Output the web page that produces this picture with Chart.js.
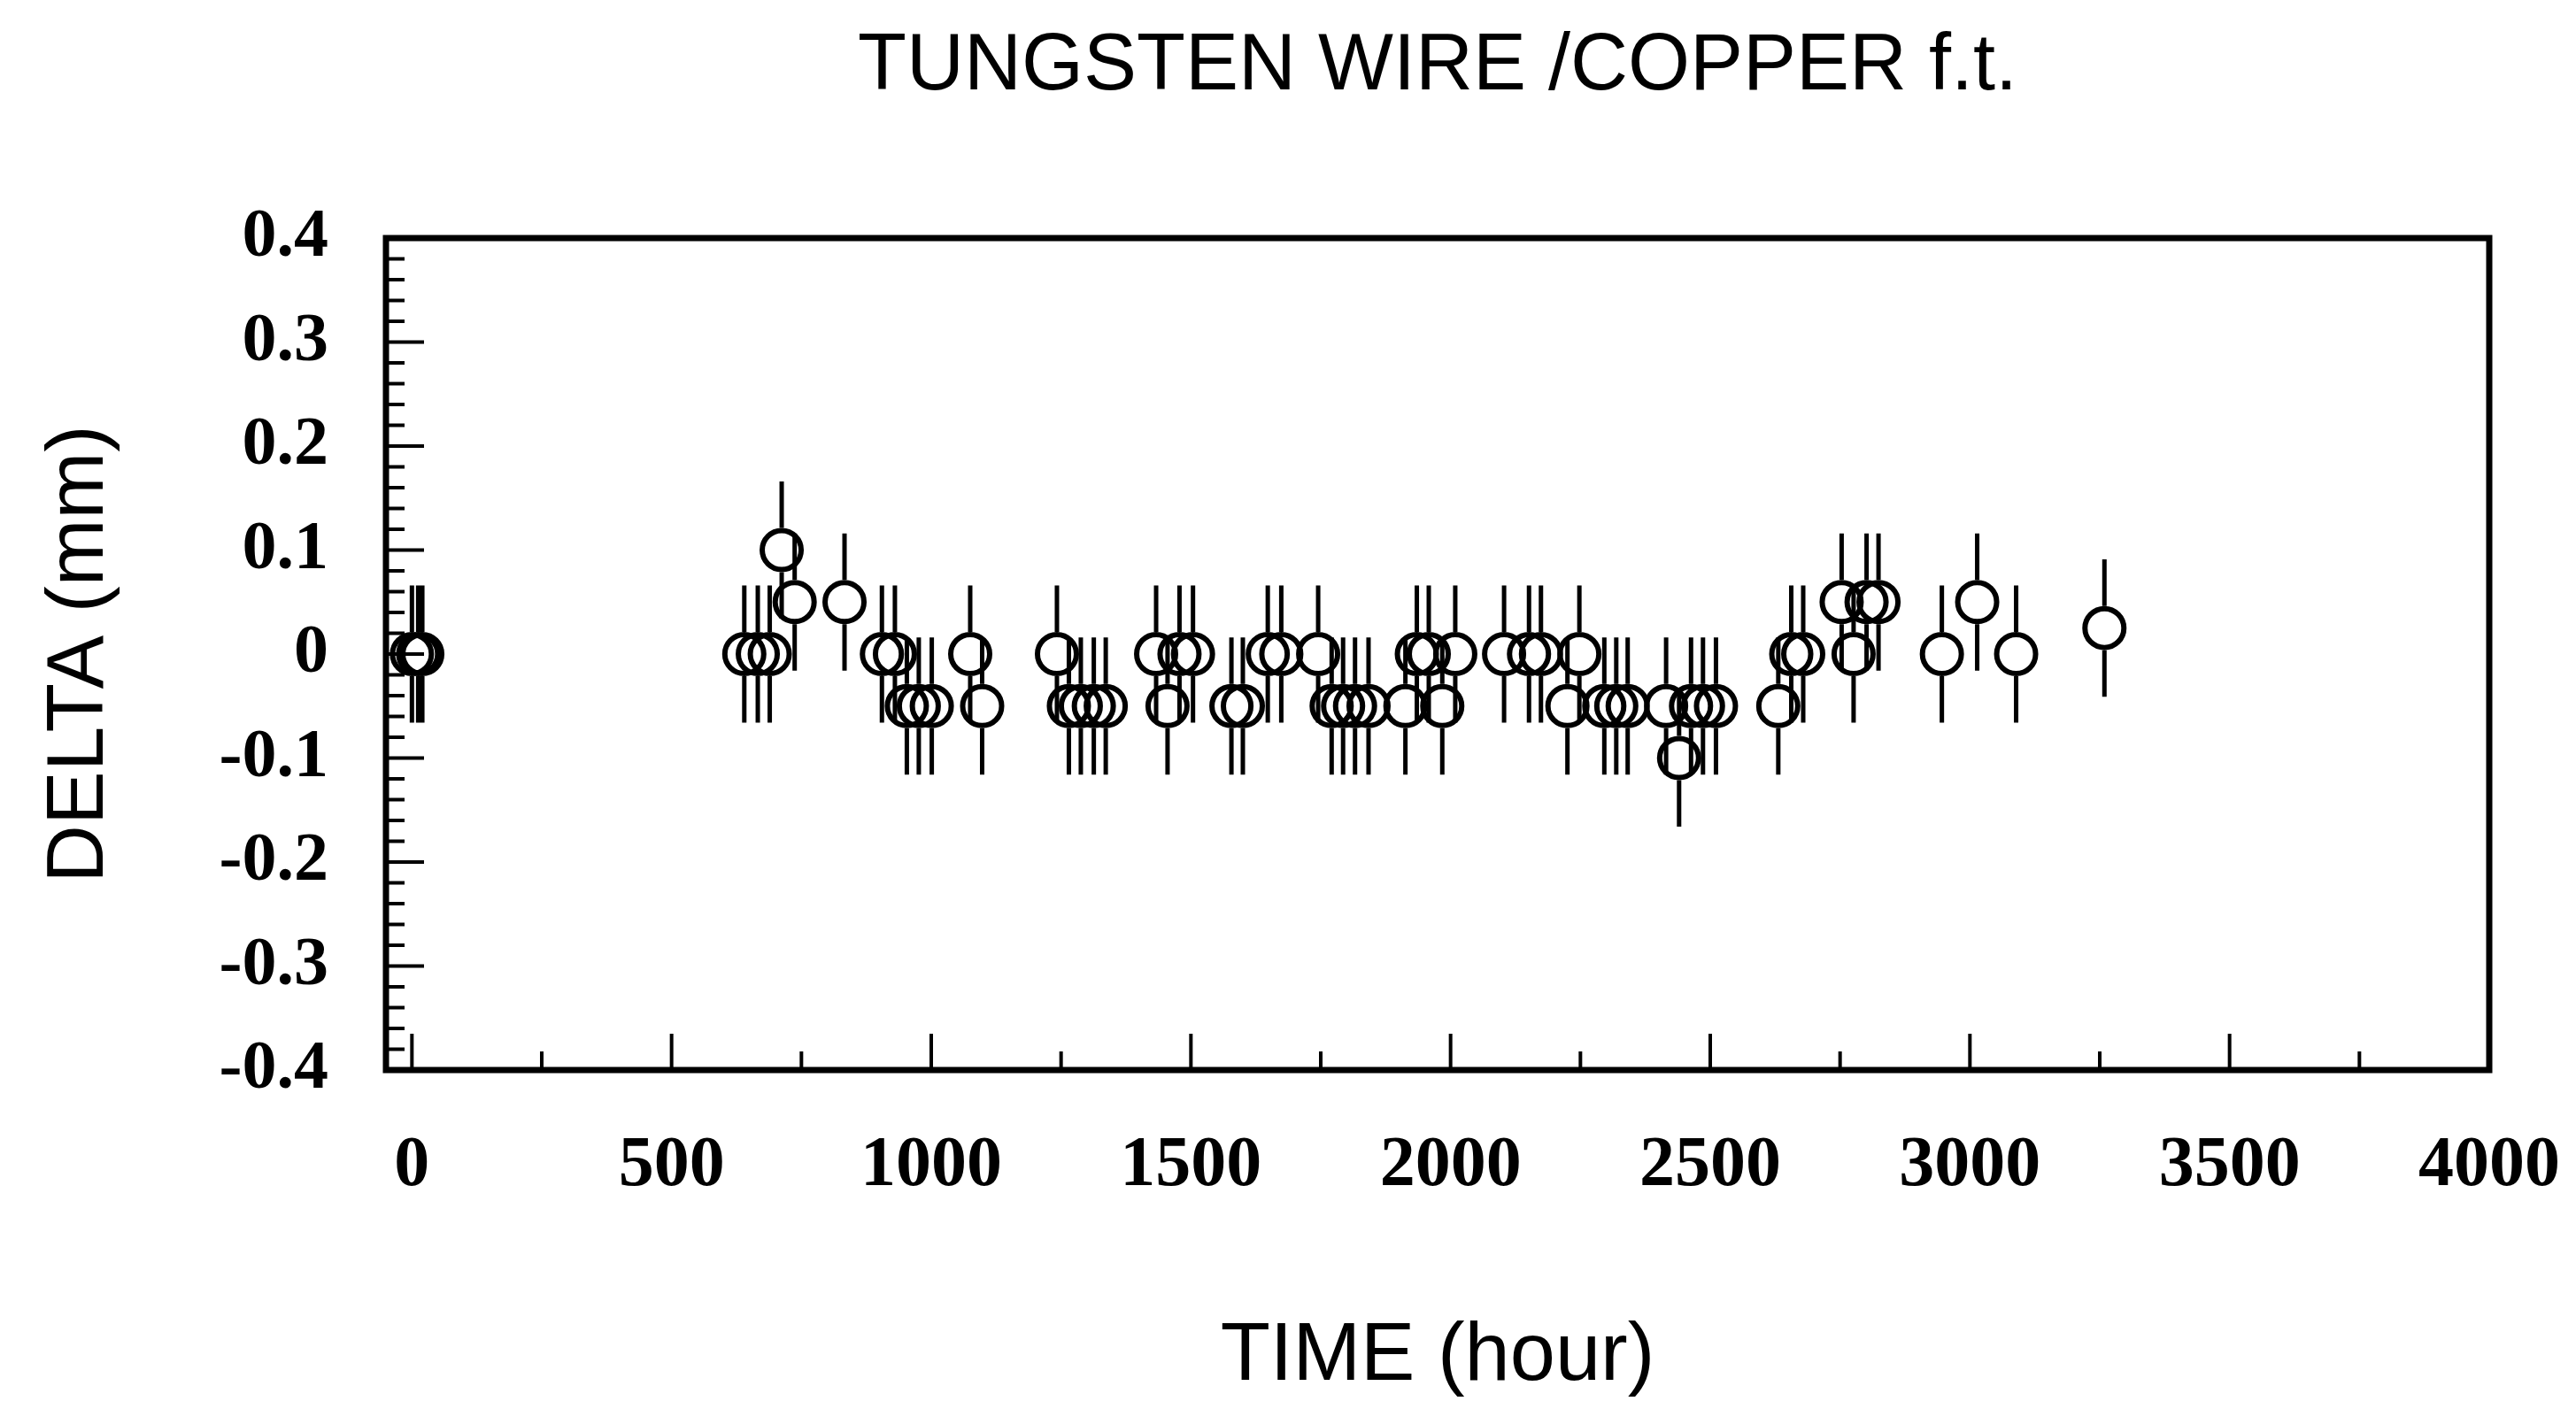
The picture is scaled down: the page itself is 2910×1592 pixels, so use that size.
<!DOCTYPE html>
<html lang="en">
<head>
<meta charset="UTF-8">
<title>TUNGSTEN WIRE /COPPER f.t.</title>
<script src="https://cdn.jsdelivr.net/npm/chart.js"></script>
<style>
    html, body { margin: 0; padding: 0; background: #ffffff; }
    #myChart { display: block; }
</style>
</head>
<body>
<canvas id="myChart" width="2910" height="1592"></canvas>

<script>
    // values (time in hours, delta in mm)
    var hours = [0, 12, 20, 640, 666, 689, 712, 737, 833, 905, 930, 953, 976, 1001, 1075, 1098,
        1242, 1265, 1288, 1313, 1336, 1433, 1455, 1478, 1504, 1578, 1600, 1648, 1674, 1745,
        1771, 1793, 1816, 1842, 1913, 1935, 1958, 1984, 2009, 2103, 2151, 2174, 2225, 2248,
        2296, 2319, 2341, 2415, 2440, 2463, 2486, 2511, 2631, 2656, 2679, 2753, 2776, 2801,
        2824, 2946, 3014, 3089, 3259];
    var delta = [0, 0, 0, 0, 0, 0, 0.1, 0.05, 0.05, 0, 0, -0.05, -0.05, -0.05, 0, -0.05,
        0, -0.05, -0.05, -0.05, -0.05, 0, -0.05, 0, 0, -0.05, -0.05, 0, 0, 0,
        -0.05, -0.05, -0.05, -0.05, -0.05, 0, 0, -0.05, 0, 0, 0, 0, -0.05, 0,
        -0.05, -0.05, -0.05, -0.05, -0.1, -0.05, -0.05, -0.05, -0.05, 0, 0, 0.05, 0, 0.05,
        0.05, 0, 0.05, 0, 0.025];
    var errDelta = 0.066; // same error bar for every point

    var xLabels = [0, 500, 1000, 1500, 2000, 2500, 3000, 3500, 4000];
    var yLabels = [0.4, 0.3, 0.2, 0.1, 0, -0.1, -0.2, -0.3, -0.4];

    var serif = "'Liberation Serif', 'Times New Roman', serif";
    var sans = "'Liberation Sans', Arial, sans-serif";

    function findLabel(list, v) {
        for (var i = 0; i < list.length; i++) {
            if (Math.abs(list[i] - v) < 1e-6) return String(list[i]);
        }
        return '';
    }

    var points = [];
    for (var i = 0; i < hours.length; i++) {
        points.push({ x: hours[i], y: delta[i] });
    }

    var radius = 22;
    var border = 6;

    // vertical error bars, stopped at the edge of each open circle
    var errorBars = {
        id: 'errorBars',
        afterDatasetsDraw: function (chart) {
            var ctx = chart.ctx;
            var ys = chart.scales.y;
            var meta = chart.getDatasetMeta(0);
            var gap = radius + border / 2;
            ctx.save();
            ctx.strokeStyle = '#000';
            ctx.lineWidth = 5;
            ctx.beginPath();
            meta.data.forEach(function (pt, i) {
                var top = ys.getPixelForValue(delta[i] + errDelta);
                var bot = ys.getPixelForValue(delta[i] - errDelta);
                ctx.moveTo(pt.x, top);
                ctx.lineTo(pt.x, pt.y - gap);
                ctx.moveTo(pt.x, pt.y + gap);
                ctx.lineTo(pt.x, bot);
            });
            ctx.stroke();
            ctx.restore();
        }
    };

    // box around the plot with inward ticks
    var frame = {
        id: 'frame',
        afterDraw: function (chart) {
            var ctx = chart.ctx;
            var a = chart.chartArea;
            var xs = chart.scales.x;
            var ys = chart.scales.y;
            ctx.save();
            ctx.strokeStyle = '#000';
            ctx.lineWidth = 4;
            ctx.beginPath();
            xs.ticks.forEach(function (t) {
                var len = findLabel(xLabels, t.value) !== '' ? 41 : 21;
                var px = xs.getPixelForValue(t.value);
                ctx.moveTo(px, a.bottom);
                ctx.lineTo(px, a.bottom - len);
            });
            ys.ticks.forEach(function (t) {
                var len = findLabel(yLabels, t.value) !== '' ? 43 : 21;
                var py = ys.getPixelForValue(t.value);
                ctx.moveTo(a.left, py);
                ctx.lineTo(a.left + len, py);
            });
            ctx.stroke();
            ctx.lineWidth = 7;
            ctx.strokeRect(a.left, a.top, a.right - a.left, a.bottom - a.top);
            ctx.restore();
        }
    };

    const config = {
        type: 'scatter',
        data: {
            datasets: [{
                label: 'DELTA',
                data: points,
                pointStyle: 'circle',
                pointRadius: radius,
                pointHoverRadius: radius,
                pointBorderWidth: border,
                pointBorderColor: '#000',
                pointBackgroundColor: 'rgba(0,0,0,0)',
                showLine: false
            }]
        },
        options: {
            responsive: false,
            animation: false,
            layout: { padding: { left: 0, right: 98, top: 0, bottom: 0 } },
            plugins: {
                legend: { display: false },
                tooltip: { enabled: false },
                title: {
                    display: true,
                    fullSize: false,
                    text: 'TUNGSTEN WIRE /COPPER f.t.',
                    color: '#000',
                    font: { family: sans, size: 90, weight: 'normal' },
                    padding: { top: 22, bottom: 139 }
                }
            },
            scales: {
                x: {
                    type: 'linear',
                    min: -50,
                    max: 4000,
                    afterBuildTicks: function (s) {
                        // a tick every 250 h, labels only on the 500 h ones
                        var t = [];
                        for (var v = 0; v <= 4000; v += 250) t.push({ value: v });
                        s.ticks = t;
                    },
                    afterFit: function (s) { s.height = 383; },
                    grid: { display: true, drawOnChartArea: false, drawTicks: true, tickLength: 61, color: 'rgba(0,0,0,0)' },
                    border: { display: false },
                    ticks: {
                        autoSkip: false,
                        maxRotation: 0,
                        padding: 0,
                        color: '#000',
                        font: { family: serif, size: 80, weight: 'bold' },
                        callback: function (v) { return findLabel(xLabels, v); }
                    },
                    title: {
                        display: true,
                        text: 'TIME (hour)',
                        color: '#000',
                        font: { family: sans, size: 92, weight: 'normal' },
                        padding: { top: 0, bottom: 3 }
                    }
                },
                y: {
                    type: 'linear',
                    min: -0.4,
                    max: 0.4,
                    afterFit: function (s) { s.width = 436; },
                    grid: { display: false, drawTicks: false },
                    border: { display: false },
                    ticks: {
                        stepSize: 0.02,
                        autoSkip: false,
                        padding: 65,
                        color: '#000',
                        font: { family: serif, size: 78, weight: 'bold' },
                        callback: function (v) { return findLabel(yLabels, v); }
                    },
                    title: {
                        display: true,
                        text: 'DELTA (mm)',
                        color: '#000',
                        font: { family: sans, size: 91, weight: 'normal' },
                        padding: { top: 36, bottom: 0 }
                    }
                }
            }
        },
        plugins: [errorBars, frame]
    };

    const myChart = new Chart(document.getElementById('myChart'), config);
</script>
</body>
</html>
